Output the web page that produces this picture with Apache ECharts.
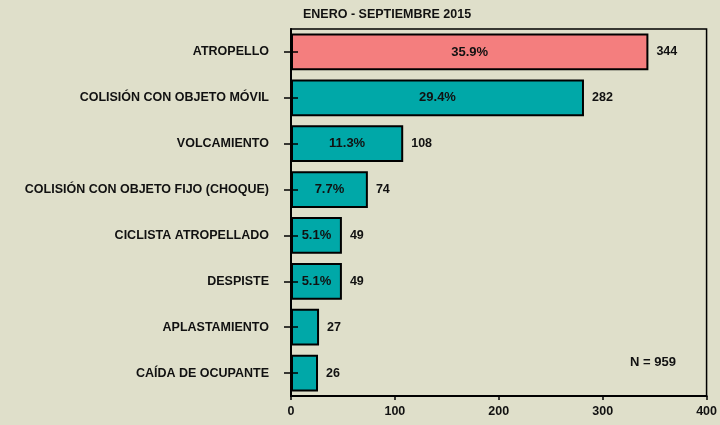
<!DOCTYPE html>
<html>
<head>
<meta charset="utf-8">
<script src="https://cdn.jsdelivr.net/npm/echarts@6/dist/echarts.min.js"></script>
<style>
  html, body { margin: 0; padding: 0; background: #dfdfca; }
  #chart { width: 720px; height: 425px; }
</style>
</head>
<body>
<div id="chart"></div>
<script>
const categories = [
  'ATROPELLO',
  'COLISIÓN CON OBJETO MÓVIL',
  'VOLCAMIENTO',
  'COLISIÓN CON OBJETO FIJO (CHOQUE)',
  'CICLISTA ATROPELLADO',
  'DESPISTE',
  'APLASTAMIENTO',
  'CAÍDA DE OCUPANTE'
]
const counts = [344, 282, 108, 74, 49, 49, 27, 26]
const percents = ['35.9%', '29.4%', '11.3%', '7.7%', '5.1%', '5.1%', '', '']
const xTicks = [0, 100, 200, 300, 400]
const total = 959

const font = 'Liberation Sans, Arial, sans-serif'
const txt = { color: '#111', fontFamily: font, fontWeight: 'bold', fontSize: 12.5 }

const barData = counts.map(function (v, i) {
  return {
    value: v,
    itemStyle: { color: i === 0 ? '#f47e7e' : '#00a8a8' }
  }
})

const myChart = echarts.init(document.getElementById('chart'))
myChart.setOption({
  backgroundColor: '#dfdfca',
  animation: false,
  title: [
    { text: 'ENERO - SEPTIEMBRE 2015', left: 298, top: 3, textStyle: Object.assign({}, txt) },
    { text: 'N = ' + total, left: 625, top: 351, textStyle: Object.assign({}, txt, { fontSize: 13 }) }
  ],
  grid: {
    left: 291, right: 9, top: 29, bottom: 29,
    show: true, borderColor: '#000', borderWidth: 1.5, backgroundColor: 'transparent'
  },
  xAxis: {
    type: 'value',
    min: xTicks[0],
    max: xTicks[xTicks.length - 1],
    interval: 100,
    splitLine: { show: false },
    axisLine: { show: true, lineStyle: { color: '#000', width: 2 } },
    axisTick: { show: true, length: 4, lineStyle: { color: '#000', width: 1.5 } },
    axisLabel: Object.assign({ margin: 9 }, txt)
  },
  yAxis: [
    {
      type: 'category',
      data: categories,
      inverse: true,
      z: 5,
      axisLine: { show: true, lineStyle: { color: '#000', width: 2 } },
      axisTick: { show: true, alignWithLabel: true, length: 7, lineStyle: { color: '#000', width: 1.5 } },
      axisLabel: Object.assign({ margin: 22 }, txt)
    },
    {
      type: 'category',
      data: categories,
      inverse: true,
      position: 'left',
      z: 5,
      axisLine: { show: false },
      axisTick: { show: true, inside: true, alignWithLabel: true, length: 7, lineStyle: { color: '#000', width: 1.5 } },
      axisLabel: { show: false }
    }
  ],
  series: [
    {
      type: 'bar',
      data: barData,
      barCategoryGap: '20%',
      itemStyle: { borderColor: '#000', borderWidth: 2 },
      label: Object.assign({ show: true, position: 'right', distance: 8 }, txt)
    },
    {
      type: 'bar',
      data: counts,
      barGap: '-100%',
      barCategoryGap: '20%',
      itemStyle: { color: 'transparent' },
      label: Object.assign({
        show: true,
        position: 'inside',
        formatter: function (p) { return percents[p.dataIndex] }
      }, txt, { fontSize: 13 }),
      z: 3
    }
  ]
})
</script>
</body>
</html>
